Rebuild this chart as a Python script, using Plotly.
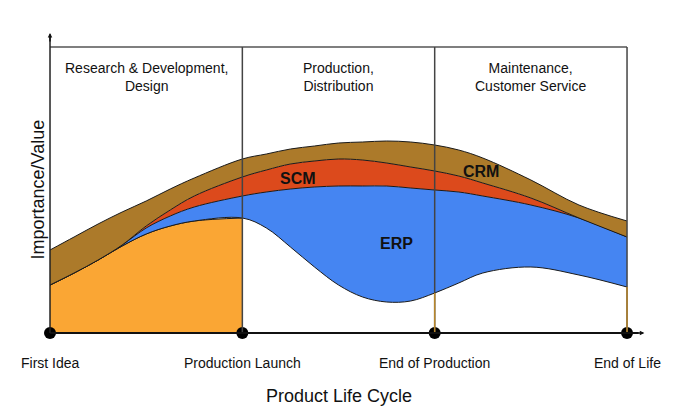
import plotly.graph_objects as go

# Phase positions (0 = First Idea ... 3 = End of Life)
milestones = ["First Idea", "Production Launch", "End of Production", "End of Life"]
milestone_x = [0, 1, 2, 3]
phases = ["Research & Development,<br>Design", "Production,<br>Distribution", "Maintenance,<br>Customer Service"]

xs = [0, 0.125, 0.25, 0.375, 0.5, 0.625, 0.75, 1.0, 1.125, 1.25, 1.375, 1.5, 1.625, 1.75, 1.875,
      2.0, 2.125, 2.25, 2.5, 2.75, 3.0]
base = [48, 60, 73, 87, 99, 107, 112, 115, 105, 86, 66, 48, 36, 31, 32,
        40, 50, 60, 66, 58, 46]            # top of orange area / bottom of ERP
erp_top = [48, 60, 73, 88, 105, 117, 126, 137, 141, 144, 146, 147, 147, 147, 145,
           143, 141, 137, 128, 115, 96]
scm_top = [48, 60, 73, 88, 107, 123, 137, 156, 163, 169, 172, 174, 173, 170, 166,
           162, 157, 150, 135, 115, 96]
crm_top = [83, 96, 109, 121, 132, 144, 155, 174, 179, 184, 187, 190, 191, 192, 191,
           188, 183, 175, 153, 128, 112]
frame_top = 286

ORANGE = "#FAA634"
BLUE = "#4585F2"
RED = "#DC4A1C"
BROWN = "#AC7A2A"
OUT = "#1a1a1a"

n_orange = xs.index(1.0) + 1

fig = go.Figure()
fig.add_trace(go.Scatter(x=xs[:n_orange], y=base[:n_orange], mode="lines", line=dict(color=OUT, width=1, shape="spline"),
                         fill="tozeroy", fillcolor=ORANGE, hoverinfo="skip"))
fig.add_trace(go.Scatter(x=xs, y=base, mode="lines", line=dict(color=OUT, width=1, shape="spline"), hoverinfo="skip"))
fig.add_trace(go.Scatter(x=xs, y=erp_top, mode="lines", line=dict(color=OUT, width=1, shape="spline"),
                         fill="tonexty", fillcolor=BLUE, hoverinfo="skip"))
fig.add_trace(go.Scatter(x=xs, y=scm_top, mode="lines", line=dict(color=OUT, width=1, shape="spline"),
                         fill="tonexty", fillcolor=RED, hoverinfo="skip"))
fig.add_trace(go.Scatter(x=xs, y=crm_top, mode="lines", line=dict(color=OUT, width=1, shape="spline"),
                         fill="tonexty", fillcolor=BROWN, hoverinfo="skip"))

shapes = []
# frame top line
shapes.append(dict(type="line", x0=0, x1=3, y0=frame_top, y1=frame_top, line=dict(color="#555", width=1.5)))
# phase dividers
for mx in milestone_x[1:]:
    shapes.append(dict(type="line", x0=mx, x1=mx, y0=0, y1=frame_top, line=dict(color="#444", width=1.5)))
for mx in milestone_x[2:]:
    shapes.append(dict(type="line", x0=mx, x1=mx, y0=0, y1=base[xs.index(mx)], line=dict(color="#B8862A", width=1.5)))
# axes
shapes.append(dict(type="line", x0=0, x1=3.06, y0=0, y1=0, line=dict(color="#111", width=2)))
shapes.append(dict(type="line", x0=0, x1=0, y0=0, y1=296, line=dict(color="#222", width=1.5)))
fig.update_layout(shapes=shapes)

# milestone dots
fig.add_trace(go.Scatter(x=milestone_x, y=[0] * 4, mode="markers", marker=dict(color="#000", size=12), hoverinfo="skip"))

ann = []
for i, p in enumerate(phases):
    ann.append(dict(x=i + 0.5, y=256, text=p, showarrow=False, font=dict(size=14, color="#111")))
for mx, m in zip(milestone_x, milestones):
    ann.append(dict(x=mx, y=-30, text=m, showarrow=False, font=dict(size=14, color="#111")))
ann.append(dict(x=1.29, y=155, text="<b>SCM</b>", showarrow=False, font=dict(size=16, color="#111")))
ann.append(dict(x=2.24, y=162, text="<b>CRM</b>", showarrow=False, font=dict(size=16, color="#111")))
ann.append(dict(x=1.80, y=90, text="<b>ERP</b>", showarrow=False, font=dict(size=16, color="#111")))
ann.append(dict(x=1.5, y=-63, text="Product Life Cycle", showarrow=False, font=dict(size=18, color="#111")))
ann.append(dict(x=-0.065, y=143, text="Importance/Value", textangle=-90, showarrow=False, font=dict(size=18, color="#111")))
# arrow heads
ann.append(dict(x=3.09, y=0, ax=3.04, ay=0, axref="x", ayref="y", xref="x", yref="y", text="", showarrow=True,
                arrowhead=2, arrowsize=0.6, arrowwidth=1.5, arrowcolor="#111"))
ann.append(dict(x=0, y=300, ax=0, ay=290, axref="x", ayref="y", xref="x", yref="y", text="", showarrow=True,
                arrowhead=2, arrowsize=0.6, arrowwidth=1.5, arrowcolor="#111"))
fig.update_layout(annotations=ann)

# page has an 8px body margin: figure is 670x410 placed at (8, 8)
fig.update_layout(
    width=670, height=410,
    margin=dict(l=0, r=0, t=0, b=0),
    paper_bgcolor="white", plot_bgcolor="white",
    showlegend=False,
    font=dict(family="Liberation Sans, Arial, sans-serif"),
    xaxis=dict(range=[-0.2184, 3.265], visible=False, fixedrange=True),
    yaxis=dict(range=[-85, 325], visible=False, fixedrange=True),
)

fig.write_html("out.html")
